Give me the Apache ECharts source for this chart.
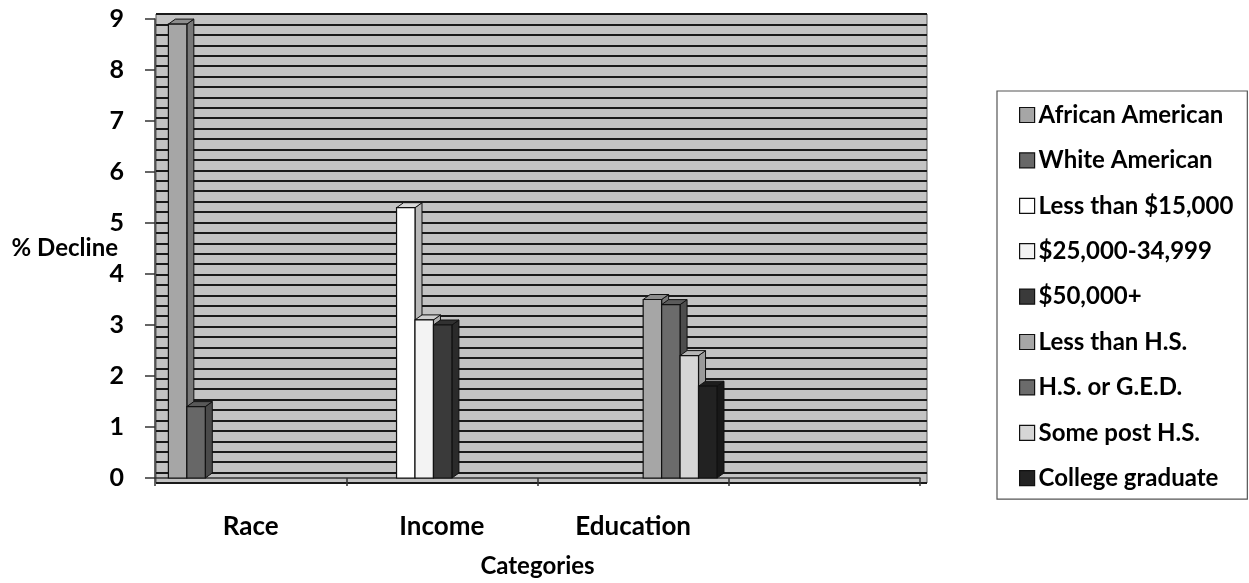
<!DOCTYPE html>
<html><head><meta charset="utf-8">
<script src="https://cdn.jsdelivr.net/npm/echarts@6/dist/echarts.min.js"></script>
<style>html,body{margin:0;padding:0;background:#fff}#c{width:1249px;height:583px}</style>
</head><body><div id="c"></div>
<script>
const categories = ['Race', 'Income', 'Education', ''];
const seriesNames = ['African American', 'White American', 'Less than $15,000', '$25,000-34,999', '$50,000+', 'Less than H.S.', 'H.S. or G.E.D.', 'Some post H.S.', 'College graduate'];
const africanAmerican = [8.9, null, null, null];
const whiteAmerican = [1.4, null, null, null];
const lessThan15k = [null, 5.3, null, null];
const from25kTo35k = [null, 3.1, null, null];
const over50k = [null, 3.0, null, null];
const lessThanHS = [null, null, 3.5, null];
const hsOrGED = [null, null, 3.4, null];
const somePostHS = [null, null, 2.4, null];
const collegeGraduate = [null, null, 1.8, null];
const seriesValues = [africanAmerican, whiteAmerican, lessThan15k, from25kTo35k, over50k, lessThanHS, hsOrGED, somePostHS, collegeGraduate];
const yMin = 0, yMax = 9, yInterval = 1;

const colors = ['#a6a6a6', '#676767', '#ffffff', '#f3f3f3', '#3a3a3a', '#a6a6a6', '#6b6b6b', '#d6d6d6', '#222222'];
const FONT = 'Lato';

function shade(hex, f) {
  const n = parseInt(hex.slice(1), 16);
  const r = Math.round(((n >> 16) & 255) * f), g = Math.round(((n >> 8) & 255) * f), b = Math.round((n & 255) * f);
  return 'rgb(' + r + ',' + g + ',' + b + ')';
}

function makeRender(slot, color) {
  return function (params, api) {
    const cat = api.value(0), v = api.value(1);
    const p0 = api.coord([cat, 0]);
    const p1 = api.coord([cat, v]);
    const W = api.size([1, 0])[0];
    const bw = W * 0.0965;
    const x = p0[0] - W / 2 + W * 0.07 + slot * bw;
    const yb = p0[1], yt = p1[1];
    const dx = 7, dy = -5;
    const stroke = '#111';
    return {
      type: 'group',
      children: [
        { type: 'polygon', shape: { points: [[x + bw, yt], [x + bw + dx, yt + dy], [x + bw + dx, yb + dy], [x + bw, yb]] }, style: { fill: shade(color, 0.72), stroke: stroke, lineWidth: 1 } },
        { type: 'polygon', shape: { points: [[x, yt], [x + dx, yt + dy], [x + bw + dx, yt + dy], [x + bw, yt]] }, style: { fill: shade(color, 0.85), stroke: stroke, lineWidth: 1 } },
        { type: 'rect', shape: { x: x, y: yt, width: bw, height: yb - yt }, style: { fill: color, stroke: stroke, lineWidth: 1.2 } }
      ]
    };
  };
}

const series = seriesNames.map(function (name, s) {
  const data = [];
  seriesValues[s].forEach(function (v, i) { if (v !== null) data.push([i, v]); });
  return {
    type: 'custom', name: name, xAxisIndex: 1, yAxisIndex: 1,
    renderItem: makeRender(s, colors[s]),
    encode: { x: 0, y: 1 },
    itemStyle: { color: colors[s], borderColor: '#111', borderWidth: 1.2 },
    data: data
  };
});

const chart = echarts.init(document.getElementById('c'), null, { renderer: 'canvas' });
chart.setOption({
  animation: false,
  backgroundColor: '#ffffff',
  textStyle: { fontFamily: FONT },
  grid: [
    { left: 156, right: 322, top: 14, bottom: 100, show: true, backgroundColor: '#c3c3c3', borderColor: '#555', borderWidth: 1 },
    { left: 155, right: 329, top: 19, bottom: 100 }
  ],
  xAxis: [
    { type: 'value', gridIndex: 0, show: false, min: 0, max: 1 },
    {
      type: 'category', gridIndex: 1, data: categories, boundaryGap: true,
      axisLine: { show: true, lineStyle: { color: '#333', width: 1.5 } },
      axisTick: { show: true, length: 8, lineStyle: { color: '#333', width: 1.5 } },
      axisLabel: { margin: 36, color: '#000', fontWeight: 'bold', fontSize: 26, fontFamily: FONT },
      name: 'Categories', nameLocation: 'middle', nameGap: 76, nameMoveOverlap: false,
      nameTextStyle: { color: '#000', fontWeight: 'bold', fontSize: 24, fontFamily: FONT }
    }
  ],
  yAxis: [
    {
      type: 'value', gridIndex: 0, min: yMin, max: yMax, interval: yInterval,
      axisLine: { show: false }, axisTick: { show: false }, axisLabel: { show: false },
      splitLine: { show: true, lineStyle: { color: '#1a1a1a', width: 2 } },
      minorTick: { show: false, splitNumber: 5 },
      minorSplitLine: { show: true, lineStyle: { color: '#1a1a1a', width: 2 } }
    },
    {
      type: 'value', gridIndex: 1, min: yMin, max: yMax, interval: yInterval,
      axisLine: { show: true, lineStyle: { color: '#333', width: 1.5 } },
      axisTick: { show: true, length: 10, lineStyle: { color: '#333', width: 1.5 } },
      axisLabel: { margin: 31, color: '#000', fontWeight: 'bold', fontSize: 25, fontFamily: FONT },
      splitLine: { show: false },
      name: '% Decline', nameLocation: 'middle', nameRotate: 0, nameGap: 37, nameMoveOverlap: false,
      nameTextStyle: { color: '#000', fontWeight: 'bold', fontSize: 24, fontFamily: FONT, align: 'right', verticalAlign: 'middle' }
    }
  ],
  legend: {
    orient: 'vertical', left: 997, top: 91,
    padding: [12, 14, 9, 22],
    borderColor: '#555', borderWidth: 1.2,
    icon: 'rect', itemWidth: 15, itemHeight: 15, itemGap: 21.4,
    data: seriesNames.map(function (n, s) { return { name: n, itemStyle: { color: colors[s], borderColor: '#111', borderWidth: 1.2 } }; }),
    textStyle: { color: '#000', fontWeight: 'bold', fontSize: 24, lineHeight: 24, fontFamily: FONT, padding: [0, 0, 0, -1] }
  },
  series: series
});
</script>
</body></html>
